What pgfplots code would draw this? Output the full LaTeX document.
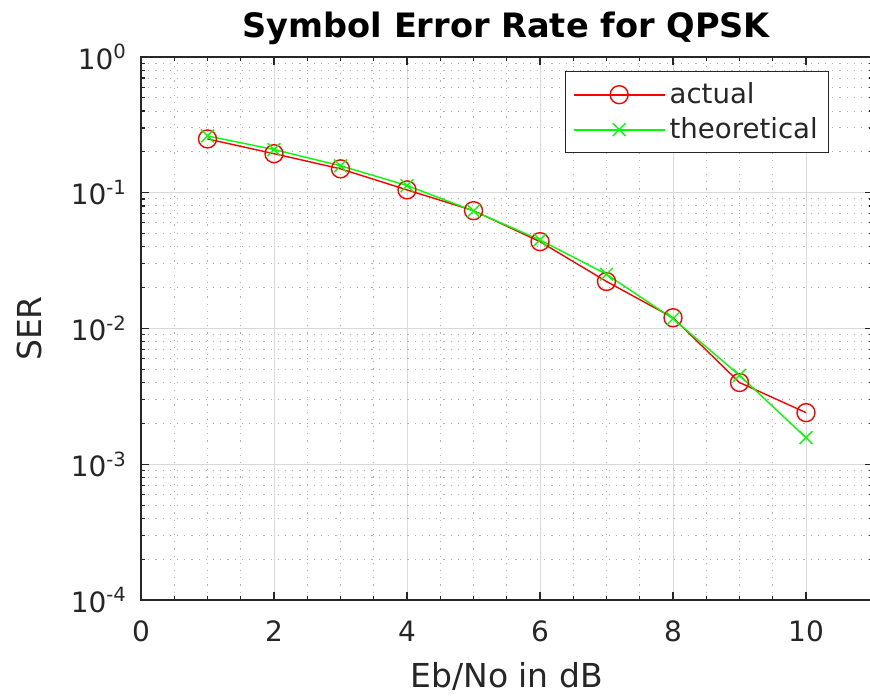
\documentclass[border=0pt]{standalone}
\usepackage{pgfplots}
\pgfplotsset{compat=1.18}
\usepackage{fontspec}
\setmainfont{DejaVu Sans}
\definecolor{txt}{HTML}{262626}
\begin{document}
\begin{tikzpicture}
\begin{axis}[
  at={(70.5pt,47.5pt)}, anchor=south west,
  scale only axis, width=365.75pt, height=271.5pt,
  ymode=log, xmin=0, xmax=11, ymin=1e-4, ymax=1,
  xtick={0,2,4,6,8,10}, xticklabels={0,2,4,6,8,10},
  minor x tick num=3,
  ytick={1e-4,1e-3,1e-2,1e-1,1},
  yticklabels={10\textsuperscript{-4},10\textsuperscript{-3},10\textsuperscript{-2},10\textsuperscript{-1},10\textsuperscript{0}},
  grid=both,
  major grid style={draw=black!15, line width=0.5pt},
  minor grid style={draw=black!30, line width=0.5pt, dash pattern=on 0.6pt off 3pt},
  tick align=inside, major tick length=4pt, minor tick length=2pt,
  tick style={draw=txt, line width=0.6pt},
  axis line style={draw=txt, line width=0.8pt},
  ticklabel style={font=\fontsize{14}{16}\selectfont, text=txt},
  xticklabel style={yshift=-7pt},
  yticklabel style={xshift=-3.5pt},
  xlabel={Eb/No in dB}, ylabel={SER},
  label style={font=\fontsize{16.5}{19}\selectfont, text=txt},
  xlabel style={at={(axis description cs:0.5,-0.14)}, anchor=center},
  ylabel style={at={(axis description cs:-0.152,0.5)}, anchor=center},
  title={\textbf{Symbol Error Rate for QPSK}},
  title style={font=\fontsize{16.8}{19}\selectfont, text=black, at={(axis description cs:0.5,1)}, anchor=center, yshift=8.5pt},
  legend style={at={(0.941,0.974)}, anchor=north east, draw=txt, line width=0.6pt,
    font=\fontsize{13.8}{16}\selectfont, text=txt, inner sep=3.5pt, row sep=1.5pt},
  legend cell align=left,
  legend image code/.code={
    \draw[#1, line width=0.9pt, mark repeat=2, mark phase=2] plot coordinates {(0cm,0cm) (0.8cm,0cm) (1.6cm,0cm)};},
]
\addplot[color=red, draw=red, line width=0.7pt, mark=o, mark size=4.5pt, mark options={draw=red, line width=0.7pt}] coordinates {
(1,0.249) (2,0.194) (3,0.150) (4,0.105) (5,0.0738) (6,0.0436) (7,0.0222) (8,0.0120) (9,0.0040) (10,0.0024)};
\addlegendentry{actual}
\addplot[color=green, draw=green, line width=0.7pt, mark=x, mark size=4.5pt, mark options={draw=green, line width=0.7pt}] coordinates {
(1,0.262) (2,0.208) (3,0.158) (4,0.113) (5,0.0734) (6,0.0449) (7,0.0251) (8,0.0118) (9,0.00452) (10,0.00157)};
\addlegendentry{theoretical}
\end{axis}
\pgfresetboundingbox
\useasboundingbox (0,0) rectangle (435pt,347.5pt);
\end{tikzpicture}
\end{document}
